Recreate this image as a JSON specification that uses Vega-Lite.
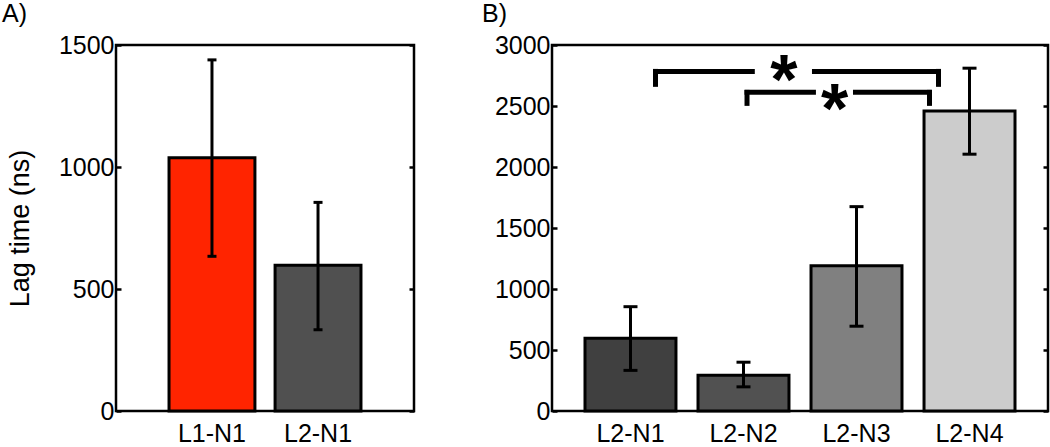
{
  "$schema": "https://vega.github.io/schema/vega-lite/v6.json",
  "padding": {"left": 0, "top": 0, "right": 0, "bottom": 0},
  "datasets": {
    "panelA": [
      {"cond": "L1-N1", "mean": 1038, "lo": 634, "hi": 1439},
      {"cond": "L2-N1", "mean": 597, "lo": 333, "hi": 855}
    ],
    "panelB": [
      {"cond": "L2-N1", "mean": 597, "lo": 333, "hi": 855},
      {"cond": "L2-N2", "mean": 294, "lo": 198, "hi": 400},
      {"cond": "L2-N3", "mean": 1190, "lo": 695, "hi": 1675},
      {"cond": "L2-N4", "mean": 2460, "lo": 2105, "hi": 2810}
    ],
    "brackets": [
      {"x": 1.221, "x2": 1.221, "y": 2804, "y2": 2657},
      {"x": 1.199, "x2": 2.10, "y": 2783, "y2": 2783},
      {"x": 2.606, "x2": 3.748, "y": 2783, "y2": 2783},
      {"x": 3.726, "x2": 3.726, "y": 2804, "y2": 2657},
      {"x": 2.031, "x2": 2.031, "y": 2632, "y2": 2501},
      {"x": 2.009, "x2": 2.641, "y": 2613, "y2": 2613},
      {"x": 2.969, "x2": 3.667, "y": 2613, "y2": 2613},
      {"x": 3.646, "x2": 3.646, "y": 2632, "y2": 2501}
    ],
    "stars": [
      {"x": 2.358, "y": 2796, "label": "*"},
      {"x": 2.806, "y": 2559, "label": "*"}
    ]
  },
  "hconcat": [
    {
      "width": 298,
      "height": 366,
      "title": {"text": "A)", "anchor": "start", "frame": "group", "dx": -114, "fontSize": 25, "fontWeight": "normal", "font": "Liberation Sans", "color": "black", "baseline": "alphabetic", "offset": -14},
      "data": {"name": "panelA"},
      "layer": [
        {
          "mark": {"type": "bar", "stroke": "black", "strokeWidth": 3},
          "encoding": {
            "x": {"field": "cond", "type": "nominal", "sort": null, "scale": {"paddingInner": 0.19, "paddingOuter": 0.5}, "axis": {"title": null, "ticks": false, "labelAngle": 0, "labelPadding": 10}},
            "y": {"field": "mean", "type": "quantitative", "scale": {"domain": [0, 1500], "nice": false}, "axis": {"title": "Lag time (ns)", "titleFontSize": 27, "titleFontWeight": "normal", "titlePadding": 24, "values": [0, 500, 1000, 1500], "format": "d", "tickSize": -5, "tickWidth": 2.5, "tickColor": "black", "labelPadding": 7}},
            "color": {"field": "cond", "type": "nominal", "scale": {"domain": ["L1-N1", "L2-N1"], "range": ["#ff2400", "#505050"]}, "legend": null}
          }
        },
        {
          "mark": {"type": "rule", "strokeWidth": 3, "color": "black"},
          "encoding": {
            "x": {"field": "cond", "type": "nominal", "sort": null},
            "y": {"field": "lo", "type": "quantitative", "scale": {"domain": [0, 1500], "nice": false}, "axis": null},
            "y2": {"field": "hi"}
          }
        },
        {
          "mark": {"type": "tick", "thickness": 3, "size": 9, "color": "black", "opacity": 1},
          "encoding": {
            "x": {"field": "cond", "type": "nominal", "sort": null},
            "y": {"field": "lo", "type": "quantitative", "scale": {"domain": [0, 1500], "nice": false}, "axis": null}
          }
        },
        {
          "mark": {"type": "tick", "thickness": 3, "size": 9, "color": "black", "opacity": 1},
          "encoding": {
            "x": {"field": "cond", "type": "nominal", "sort": null},
            "y": {"field": "hi", "type": "quantitative", "scale": {"domain": [0, 1500], "nice": false}, "axis": null}
          }
        },
        {
          "mark": {"type": "rule", "opacity": 0},
          "encoding": {
            "y": {"field": "mean", "type": "quantitative", "scale": {"domain": [0, 1500], "nice": false}, "axis": {"orient": "right", "labels": false, "title": null, "values": [0, 500, 1000, 1500], "tickSize": -5, "tickWidth": 2.5, "tickColor": "black"}}
          }
        }
      ],
      "resolve": {"axis": {"y": "independent"}}
    },
    {
      "width": 496,
      "height": 366,
      "title": {"text": "B)", "anchor": "start", "frame": "group", "dx": -70, "fontSize": 25, "fontWeight": "normal", "font": "Liberation Sans", "color": "black", "baseline": "alphabetic", "offset": -14},
      "data": {"name": "panelB"},
      "layer": [
        {
          "mark": {"type": "bar", "stroke": "black", "strokeWidth": 3},
          "encoding": {
            "x": {"field": "cond", "type": "nominal", "sort": null, "scale": {"paddingInner": 0.195, "paddingOuter": 0.292}, "axis": {"title": null, "ticks": false, "labelAngle": 0, "labelPadding": 10}},
            "y": {"field": "mean", "type": "quantitative", "scale": {"domain": [0, 3000], "nice": false}, "axis": {"title": null, "values": [0, 500, 1000, 1500, 2000, 2500, 3000], "format": "d", "tickSize": -5, "tickWidth": 2.5, "tickColor": "black", "labelPadding": 7}},
            "color": {"field": "cond", "type": "nominal", "scale": {"domain": ["L2-N1", "L2-N2", "L2-N3", "L2-N4"], "range": ["#404040", "#515151", "#808080", "#cccccc"]}, "legend": null}
          }
        },
        {
          "mark": {"type": "rule", "strokeWidth": 3, "color": "black"},
          "encoding": {
            "x": {"field": "cond", "type": "nominal", "sort": null, "scale": {"paddingInner": 0.195, "paddingOuter": 0.292}, "axis": null},
            "y": {"field": "lo", "type": "quantitative", "scale": {"domain": [0, 3000], "nice": false}, "axis": null},
            "y2": {"field": "hi"}
          }
        },
        {
          "mark": {"type": "tick", "thickness": 3, "size": 14, "color": "black", "opacity": 1},
          "encoding": {
            "x": {"field": "cond", "type": "nominal", "sort": null, "scale": {"paddingInner": 0.195, "paddingOuter": 0.292}, "axis": null},
            "y": {"field": "lo", "type": "quantitative", "scale": {"domain": [0, 3000], "nice": false}, "axis": null}
          }
        },
        {
          "mark": {"type": "tick", "thickness": 3, "size": 14, "color": "black", "opacity": 1},
          "encoding": {
            "x": {"field": "cond", "type": "nominal", "sort": null, "scale": {"paddingInner": 0.195, "paddingOuter": 0.292}, "axis": null},
            "y": {"field": "hi", "type": "quantitative", "scale": {"domain": [0, 3000], "nice": false}, "axis": null}
          }
        },
        {
          "data": {"name": "brackets"},
          "mark": {"type": "rule", "strokeWidth": 5, "color": "black", "strokeCap": "butt"},
          "encoding": {
            "x": {"field": "x", "type": "quantitative", "scale": {"domain": [0.305, 4.695], "nice": false, "zero": false}, "axis": null},
            "x2": {"field": "x2"},
            "y": {"field": "y", "type": "quantitative", "scale": {"domain": [0, 3000], "nice": false}, "axis": null},
            "y2": {"field": "y2"}
          }
        },
        {
          "data": {"name": "stars"},
          "mark": {"type": "text", "font": "Liberation Sans", "fontWeight": "bold", "fontSize": 70, "baseline": "alphabetic", "dy": 34, "color": "black"},
          "encoding": {
            "x": {"field": "x", "type": "quantitative", "scale": {"domain": [0.305, 4.695], "nice": false, "zero": false}, "axis": null},
            "y": {"field": "y", "type": "quantitative", "scale": {"domain": [0, 3000], "nice": false}, "axis": null},
            "text": {"field": "label"}
          }
        },
        {
          "mark": {"type": "rule", "opacity": 0},
          "encoding": {
            "y": {"field": "mean", "type": "quantitative", "scale": {"domain": [0, 3000], "nice": false}, "axis": {"orient": "right", "labels": false, "title": null, "values": [0, 500, 1000, 1500, 2000, 2500, 3000], "tickSize": -5, "tickWidth": 2.5, "tickColor": "black"}}
          }
        }
      ],
      "resolve": {"scale": {"x": "independent", "color": "independent"}, "axis": {"y": "independent"}}
    }
  ],
  "bounds": "flush",
  "spacing": 138,
  "resolve": {"scale": {"color": "independent", "y": "independent"}},
  "config": {
    "view": {"stroke": "black", "strokeWidth": 2.5},
    "font": "Liberation Sans",
    "axis": {"labelFont": "Liberation Sans", "labelFontSize": 25, "labelColor": "black", "titleFont": "Liberation Sans", "titleColor": "black", "grid": false, "domain": false}
  }
}
